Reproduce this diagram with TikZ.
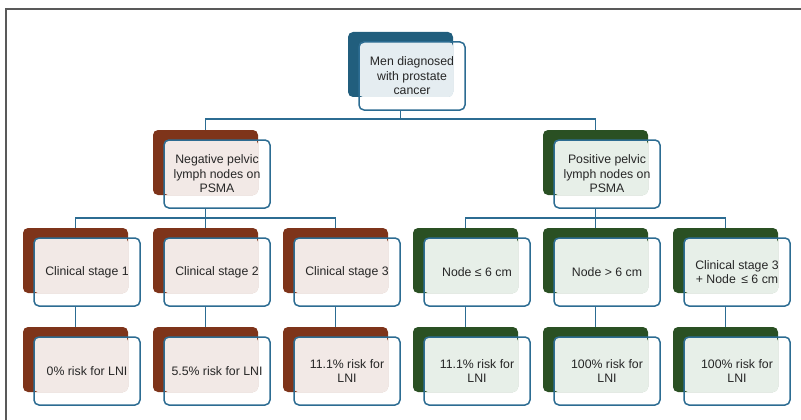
\documentclass[tikz,border=0pt]{standalone}
\usepackage{fontspec}
\setmainfont{Liberation Sans}
\definecolor{topdark}{HTML}{215E7D}
\definecolor{browndark}{HTML}{7E341A}
\definecolor{greendark}{HTML}{2A5023}
\definecolor{edgeblue}{HTML}{2C6C92}
\definecolor{toplight}{HTML}{E5EDF1}
\definecolor{brownlight}{HTML}{F2E9E6}
\definecolor{greenlight}{HTML}{E7EFE8}
\tikzset{
  backbox/.style={rectangle, rounded corners=5pt, minimum width=105pt, minimum height=65pt, inner sep=0pt, outer sep=0pt},
  frontbox/.style={rectangle, rounded corners=5pt, draw=edgeblue, line width=1.5pt, minimum width=106pt, minimum height=68pt, inner sep=2pt, outer sep=0pt, align=center, font=\fontsize{12.3pt}{14.5pt}\selectfont, text=black!85},
  conn/.style={draw=edgeblue, line width=1.5pt},
  frame/.style={draw=black!65, line width=1.3pt}
}
% #1 name, #2 back left x, #3 back top y, #4 dark colour, #5 light colour, #6 text
\newcommand\pairbox[6]{%
  \node[backbox, fill=#4, anchor=north west] (#1b) at (#2,#3) {};
  \fill[#5, rounded corners=4pt] ($(#2,#3)+(11,10)$) rectangle (#1b.south east);
  \node[frontbox, anchor=north west] (#1f) at ($(#2,#3)+(11,10)$) {#6};
}
\usetikzlibrary{calc}
\begin{document}
\begin{tikzpicture}[x=1pt,y=-1pt]
\useasboundingbox (0,0) rectangle (801,420);
% outer frame
\coordinate (frTL) at (6,9);
\coordinate (frTR) at (801,9);
\coordinate (frBL) at (6,420);
\draw[frame] (frTR) -- (frTL) -- (frBL);

\pairbox{top}{348}{32}{topdark}{toplight}{Men diagnosed\\with prostate\\cancer}
\pairbox{neg}{153}{130}{browndark}{brownlight}{Negative pelvic\\lymph nodes on\\PSMA}
\pairbox{pos}{543}{130}{greendark}{greenlight}{Positive pelvic\\lymph nodes on\\PSMA}

\pairbox{ca}{23}{228}{browndark}{brownlight}{Clinical stage 1}
\pairbox{cb}{153}{228}{browndark}{brownlight}{Clinical stage 2}
\pairbox{cc}{283}{228}{browndark}{brownlight}{Clinical stage 3}
\pairbox{cd}{413}{228}{greendark}{greenlight}{Node ≤ 6 cm}
\pairbox{ce}{543}{228}{greendark}{greenlight}{Node > 6 cm}
\pairbox{cf}{673}{228}{greendark}{greenlight}{Clinical stage 3\\+ Node \,≤ 6 cm}

\pairbox{ra}{23}{327}{browndark}{brownlight}{0\% risk for LNI}
\pairbox{rb}{153}{327}{browndark}{brownlight}{5.5\% risk for LNI}
\pairbox{rc}{283}{327}{browndark}{brownlight}{11.1\% risk for\\LNI}
\pairbox{rd}{413}{327}{greendark}{greenlight}{11.1\% risk for\\LNI}
\pairbox{re}{543}{327}{greendark}{greenlight}{100\% risk for\\LNI}
\pairbox{rf}{673}{327}{greendark}{greenlight}{100\% risk for\\LNI}

% connectors
\coordinate (busA) at (400.5,119);
\draw[conn] (topb.center |- topf.south) -- (busA);
\draw[conn] (negb.north) |- (busA) -| (posb.north);

\coordinate (busL) at (205.5,218);
\draw[conn] (negb.center |- negf.south) -- (busL);
\draw[conn] (cab.north) |- (busL) -| (ccb.north);
\draw[conn] (busL) -- (cbb.north);

\coordinate (busR) at (595.5,218);
\draw[conn] (posb.center |- posf.south) -- (busR);
\draw[conn] (cdb.north) |- (busR) -| (cfb.north);
\draw[conn] (busR) -- (ceb.north);

\foreach \u/\l in {ca/ra,cb/rb,cc/rc,cd/rd,ce/re,cf/rf}{
  \draw[conn] (\u b.center |- \u f.south) -- (\l b.north);
}
\end{tikzpicture}
\end{document}
